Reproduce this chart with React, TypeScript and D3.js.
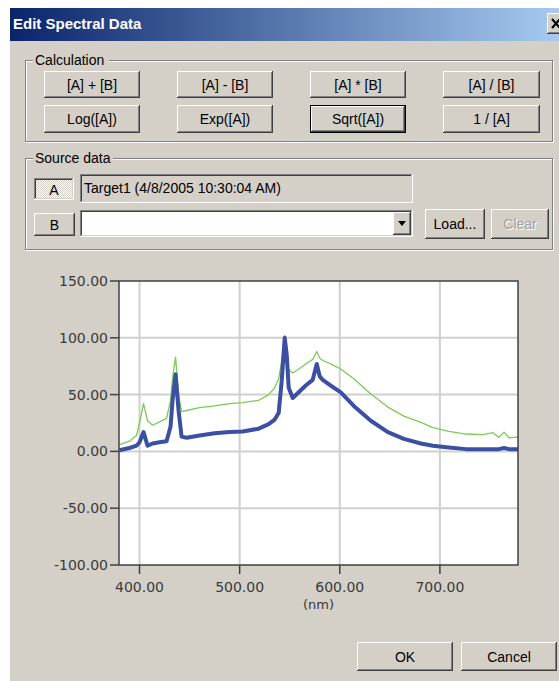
import React from "react";
import * as d3 from "d3";

const wavelengths = [380, 390, 397, 400, 404, 408, 413, 420, 427, 431, 433, 436, 439, 442, 447, 460, 475, 490, 503, 519, 529, 535, 539, 542, 545, 547, 549, 553, 560, 566, 573, 577, 580, 583, 591, 601, 614, 631, 648, 664, 681, 693, 709, 726, 743, 753, 759, 764, 769, 778];
const seriesA = [1, 3, 5, 8, 17, 5, 7, 8, 9, 22, 45, 68, 36, 13, 12, 14, 16, 17, 17.5, 20, 24, 28, 34, 62, 100, 85, 56, 47, 53, 58, 63, 77, 66, 63, 58, 52, 40, 27, 17, 11, 7, 5, 3.5, 2, 2, 2, 2, 3, 2, 2];
const seriesRef = [6, 9, 14, 25, 42, 27, 23, 26, 29, 45, 65, 83, 50, 35, 36, 38.5, 40, 42, 43, 45, 50, 56, 64, 80, 102, 90, 72, 69, 73, 77, 81, 88, 82, 80, 77, 72.5, 64, 50.5, 39, 31, 25.5, 21, 17.6, 15.3, 14.7, 16.5, 12.3, 17, 12, 12.5];
const yTicks = [-100, -50, 0, 50, 100, 150];
const xTicks = [400, 500, 600, 700];
const calcButtons = ["[A] + [B]", "[A] - [B]", "[A] * [B]", "[A] / [B]", "Log([A])", "Exp([A])", "Sqrt([A])", "1 / [A]"];

const GRAY = "#d4d0c8";
const UI_FONT = "'Liberation Sans', Arial, sans-serif";
const AX_FONT = "'DejaVu Sans', Verdana, sans-serif";

function Bevel({ x, y, w, h, sunken = false, fill = GRAY }) {
  const tl = sunken ? "#808080" : "#ffffff";
  const br = sunken ? "#ffffff" : "#404040";
  const tl2 = sunken ? "#404040" : GRAY;
  const br2 = sunken ? GRAY : "#808080";
  return (
    <g shapeRendering="crispEdges">
      <rect x={x} y={y} width={w} height={h} fill={fill} />
      <path d={`M${x + 0.5},${y + h - 1}V${y + 0.5}H${x + w - 1}`} stroke={tl} fill="none" />
      <path d={`M${x},${y + h - 0.5}H${x + w - 0.5}V${y}`} stroke={br} fill="none" />
      <path d={`M${x + 1.5},${y + h - 2}V${y + 1.5}H${x + w - 2}`} stroke={tl2} fill="none" />
      <path d={`M${x + 1},${y + h - 1.5}H${x + w - 1.5}V${y + 1}`} stroke={br2} fill="none" />
    </g>
  );
}

function Button({ x, y, w, h, label, isDefault = false, disabled = false }) {
  return (
    <g>
      {isDefault && <rect x={x + 0.5} y={y + 0.5} width={w - 1} height={h - 1} fill="none" stroke="#000" shapeRendering="crispEdges" />}
      {isDefault ? <Bevel x={x + 1} y={y + 1} w={w - 2} h={h - 2} /> : <Bevel x={x} y={y} w={w} h={h} />}
      {disabled && (
        <text x={x + w / 2 + 1} y={y + h / 2 + 6} textAnchor="middle" fontFamily={UI_FONT} fontSize={14} fill="#ffffff">{label}</text>
      )}
      <text x={x + w / 2} y={y + h / 2 + 5} textAnchor="middle" fontFamily={UI_FONT} fontSize={14} fill={disabled ? "#a0a0a0" : "#000"}>{label}</text>
    </g>
  );
}

function GroupBox({ x, y, w, h, label, labelW }) {
  return (
    <g shapeRendering="crispEdges">
      <rect x={x + 1.5} y={y + 1.5} width={w - 1} height={h - 1} fill="none" stroke="#ffffff" />
      <rect x={x + 0.5} y={y + 0.5} width={w - 1} height={h - 1} fill="none" stroke="#808080" />
      <rect x={x + 8} y={y - 6} width={labelW} height={12} fill={GRAY} />
      <text x={x + 10} y={y + 5} fontFamily={UI_FONT} fontSize={14} fill="#000" shapeRendering="auto">{label}</text>
    </g>
  );
}

export default function App() {
  const W = 559, H = 681;
  const plot = { left: 119, right: 518, top: 281, bottom: 565 };
  const x = d3.scaleLinear().domain([379.5, 778]).range([plot.left, plot.right]);
  const y = d3.scaleLinear().domain([-100, 150]).range([plot.bottom, plot.top]);
  const line = d3.line<number>().x((_, i) => x(wavelengths[i])).y((v) => y(v));

  const colX = [44, 177, 310, 443];
  const colW = [96, 96, 96, 97];

  return (
    <svg width={W} height={H} style={{ position: "absolute", left: 0, top: 0 }}>
      <defs>
        <linearGradient id="tb" x1="0" x2="1" y1="0" y2="0">
          <stop offset="0" stopColor="#0a246a" />
          <stop offset="1" stopColor="#a6caf0" />
        </linearGradient>
        <pattern id="chk" width="2" height="2" patternUnits="userSpaceOnUse">
          <rect width="2" height="2" fill="#ffffff" />
          <rect width="1" height="1" fill={GRAY} />
          <rect x="1" y="1" width="1" height="1" fill={GRAY} />
        </pattern>
        <clipPath id="plotClip">
          <rect x={plot.left} y={plot.top} width={plot.right - plot.left} height={plot.bottom - plot.top} />
        </clipPath>
      </defs>
      <rect x={0} y={0} width={W} height={H} fill="#ffffff" />
      <rect x={10} y={8} width={W - 10} height={H - 8} fill={GRAY} />
      {/* title bar */}
      <rect x={10} y={8} width={W - 10} height={33} fill="url(#tb)" />
      <text x={13} y={29} fontFamily={UI_FONT} fontWeight="bold" fontSize={15} fill="#ffffff">Edit Spectral Data</text>
      <Bevel x={547} y={13} w={22} h={21} />
      <path d="M552,19 L560,28 M560,19 L552,28" stroke="#000" strokeWidth={2.2} />

      {/* Calculation group */}
      <GroupBox x={25} y={60} w={528} h={82} label="Calculation" labelW={76} />
      {calcButtons.map((lab, i) => (
        <Button key={lab} x={colX[i % 4]} y={i < 4 ? 71 : 105} w={colW[i % 4]} h={i < 4 ? 27 : 28} label={lab} isDefault={lab === "Sqrt([A])"} />
      ))}

      {/* Source data group */}
      <GroupBox x={25} y={158} w={528} h={92} label="Source data" labelW={80} />
      <Bevel x={34} y={178} w={40} h={22} sunken fill="url(#chk)" />
      <text x={54} y={195} textAnchor="middle" fontFamily={UI_FONT} fontSize={14}>A</text>
      <Bevel x={80} y={174} w={333} h={29} sunken />
      <text x={84} y={193} fontFamily={UI_FONT} fontSize={14}>Target1 (4/8/2005 10:30:04 AM)</text>
      <Button x={34} y={213} w={41} h={23} label="B" />
      <Bevel x={80} y={210} w={333} h={27} sunken fill="#ffffff" />
      <Bevel x={393} y={212} w={18} h={23} />
      <path d="M398,221 h8 l-4,5 z" fill="#000" />
      <Button x={425} y={209} w={60} h={30} label="Load..." />
      <Button x={491} y={209} w={58} h={30} label="Clear" disabled />

      {/* chart */}
      <rect x={plot.left} y={plot.top} width={plot.right - plot.left} height={plot.bottom - plot.top} fill="#ffffff" />
      <g stroke="#d0d0d0" strokeWidth={2}>
        {xTicks.map((t) => (
          <line key={"gx" + t} x1={x(t)} x2={x(t)} y1={plot.top} y2={plot.bottom} />
        ))}
        {yTicks.filter((t) => t > -100 && t < 150).map((t) => (
          <line key={"gy" + t} x1={plot.left} x2={plot.right} y1={y(t)} y2={y(t)} />
        ))}
      </g>
      <g clipPath="url(#plotClip)" fill="none" strokeLinejoin="round">
        <path d={line(seriesRef) || ""} stroke="#7ccb58" strokeWidth={1.3} />
        <path d={line(seriesA) || ""} stroke="#3b4fa3" strokeWidth={4} />
      </g>
      <rect x={plot.left} y={plot.top} width={plot.right - plot.left} height={plot.bottom - plot.top} fill="none" stroke="#404040" strokeWidth={1.5} />
      <g stroke="#404040" strokeWidth={1.5}>
        {yTicks.map((t) => (
          <line key={"ty" + t} x1={plot.left - 9} x2={plot.left} y1={y(t)} y2={y(t)} />
        ))}
        {xTicks.map((t) => (
          <line key={"tx" + t} x1={x(t)} x2={x(t)} y1={plot.bottom} y2={plot.bottom + 9} />
        ))}
      </g>
      <g fontFamily={AX_FONT} fontSize={14} fill="#3a3a3a">
        {yTicks.map((t) => (
          <text key={"ly" + t} x={plot.left - 11} y={y(t) + 5} textAnchor="end">{t.toFixed(2)}</text>
        ))}
        {xTicks.map((t) => (
          <text key={"lx" + t} x={x(t)} y={592} textAnchor="middle">{t.toFixed(2)}</text>
        ))}
        <text x={(plot.left + plot.right) / 2} y={609} textAnchor="middle" fontSize={13}>(nm)</text>
      </g>

      <Button x={357} y={642} w={96} h={29} label="OK" />
      <Button x={461} y={642} w={96} h={29} label="Cancel" />
    </svg>
  );
}
